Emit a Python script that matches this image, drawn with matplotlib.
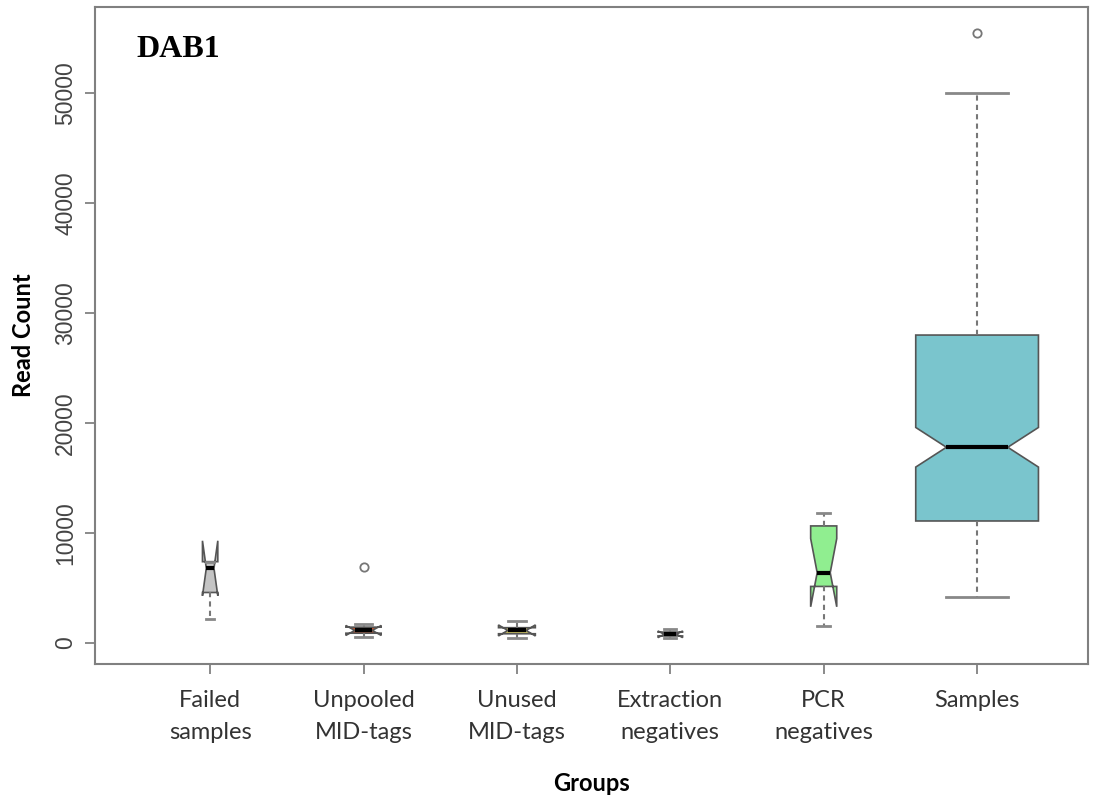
import matplotlib
matplotlib.use("Agg")
import matplotlib.pyplot as plt

# group names and box stats
groups = ["Failed\nsamples", "Unpooled\nMID-tags", "Unused\nMID-tags",
          "Extraction\nnegatives", "PCR\nnegatives", "Samples"]
whislo = [2200, 550, 450, 450, 1550, 4200]
q1 = [4600, 900, 850, 650, 5150, 11100]
med = [6800, 1150, 1150, 800, 6400, 17800]
q3 = [7400, 1450, 1400, 1000, 10650, 28000]
whishi = [7400, 1700, 2000, 1250, 11800, 50000]
cilo = [4300, 700, 650, 500, 3300, 16000]
cihi = [9300, 1600, 1650, 1100, 9500, 19600]
fliers = [[], [6900], [], [], [], [55500]]
box_widths = [0.1, 0.23, 0.24, 0.16, 0.17, 0.8]
colors = ["#C4C4C4", "#B8502C", "#C8BE62", "#7E4689", "#90EE90", "#7AC5CD"]
yticks = [0, 10000, 20000, 30000, 40000, 50000]

stats = []
for i in range(len(groups)):
    stats.append(dict(label=groups[i], whislo=whislo[i], q1=q1[i], med=med[i],
                      q3=q3[i], whishi=whishi[i], cilo=cilo[i], cihi=cihi[i],
                      fliers=fliers[i]))

fig = plt.figure(figsize=(10.93, 8), dpi=100)
ax = fig.add_axes([0.087, 0.17, 0.908, 0.821])

pos = list(range(1, len(groups) + 1))
res = ax.bxp(stats, positions=pos, widths=box_widths, patch_artist=True,
             shownotches=True, showfliers=True,
             capwidths=[w * 0.5 for w in box_widths],
             boxprops=dict(edgecolor="#555555", linewidth=1.2),
             whiskerprops=dict(color="#777777", linewidth=1.5, linestyle=(0, (2.5, 2))),
             capprops=dict(color="#888888", linewidth=2),
             medianprops=dict(color="black", linewidth=3, solid_capstyle="butt"),
             flierprops=dict(marker="o", markersize=6, markerfacecolor="none",
                             markeredgecolor="#777777", markeredgewidth=1.3))
for b, c in zip(res["boxes"], colors):
    b.set_facecolor(c)

ax.set_xlim(0.25, 6.72)
ax.set_ylim(-1900, 57800)
ax.set_yticks(yticks)
ax.set_yticklabels([str(v) for v in yticks], rotation=90, va="center",
                   fontsize=16.5, color="#444444", family="Liberation Sans")
ax.set_xticks(pos)
ax.set_xticklabels(groups, fontsize=17, color="#333333", family="Lato",
                   linespacing=1.6)
ax.tick_params(axis="both", direction="out", length=7, width=1.2, color="#777777")
ax.tick_params(axis="x", pad=12)
ax.tick_params(axis="y", pad=6)
for s in ax.spines.values():
    s.set_color("#808080")
    s.set_linewidth(1.5)

ax.set_xlabel("Groups", fontsize=17, fontweight="bold", family="Lato", labelpad=21)
ax.set_ylabel("Read Count", fontsize=17, fontweight="bold", family="Lato", labelpad=14)
ax.text(0.042, 0.935, "DAB1", transform=ax.transAxes, fontsize=23, fontweight="bold",
        family="Liberation Serif", ha="left", va="center")

fig.savefig("out.png", dpi=100)
